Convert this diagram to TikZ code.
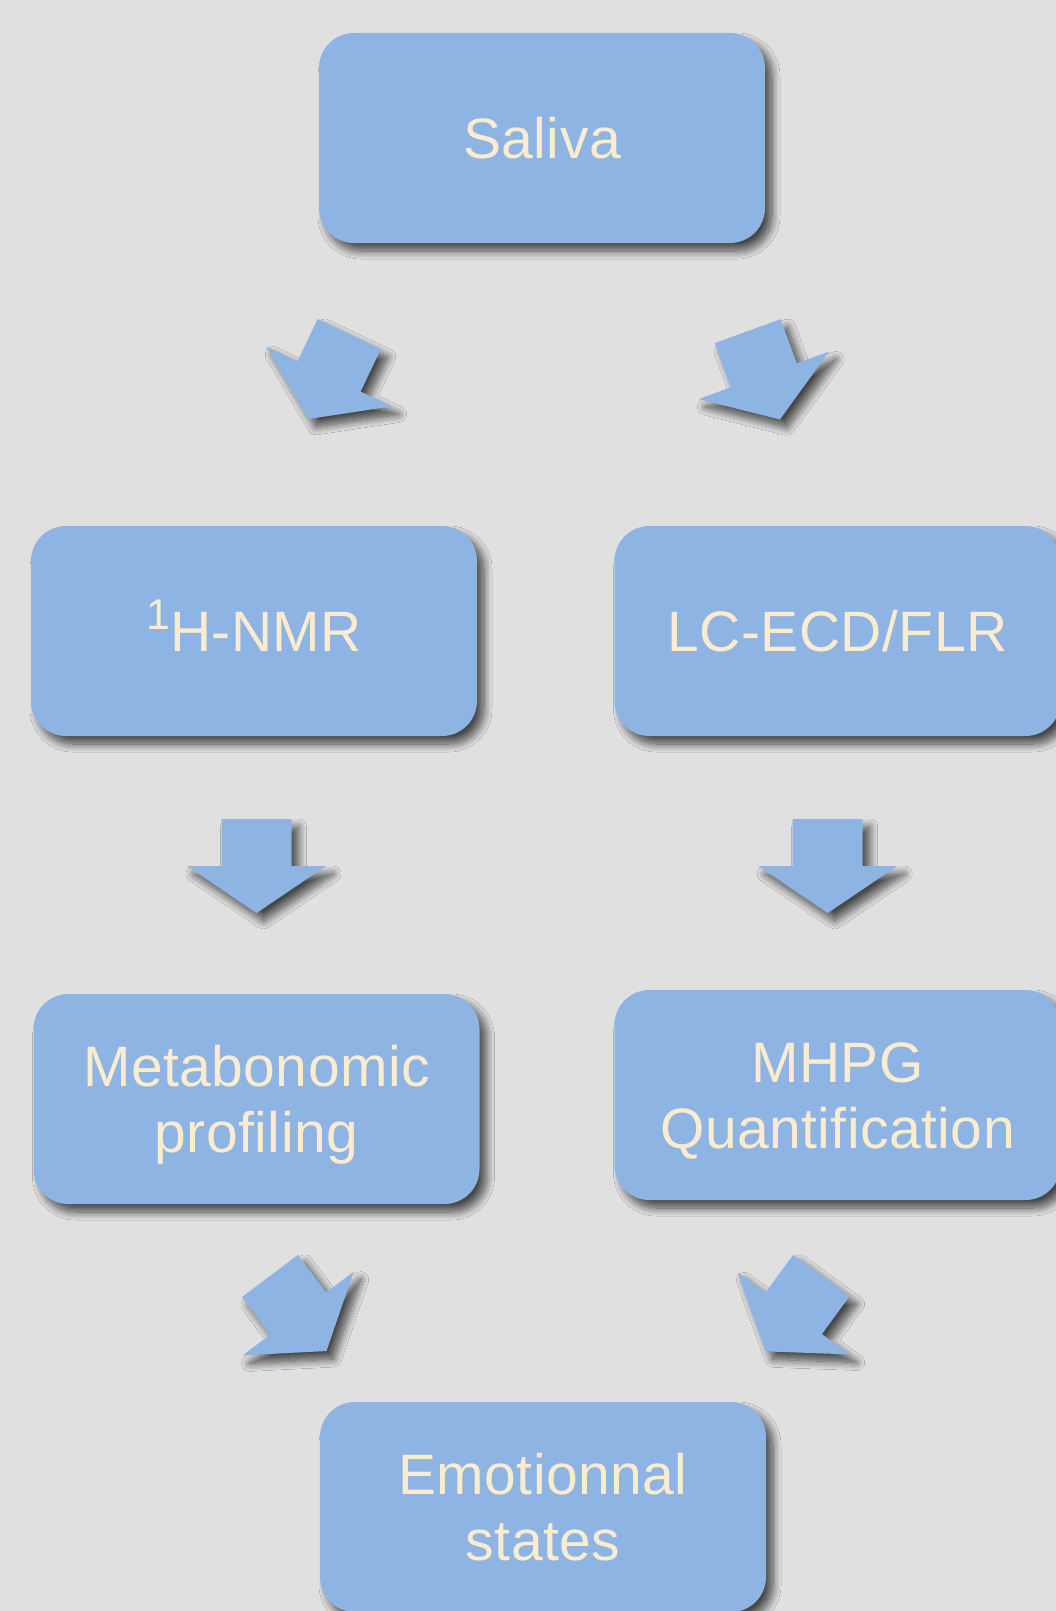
\documentclass[tikz,border=0pt]{standalone}
\usepackage{fontspec}
\setmainfont[LetterSpace=0.8]{Liberation Sans}
\usetikzlibrary{calc,shadows.blur}
\definecolor{bgc}{RGB}{224,224,224}
\definecolor{boxc}{RGB}{142,180,227}
\definecolor{txtc}{RGB}{251,236,208}
\tikzset{
  softshadow/.style={blur shadow={shadow xshift=7pt, shadow yshift=-8pt, shadow blur radius=8pt, shadow blur steps=12, shadow opacity=68}},
  box/.style={rounded corners=35pt, fill=boxc, minimum width=446pt, minimum height=210pt,
    inner sep=0pt, text=txtc, align=center, font=\fontsize{57}{66.5}\selectfont, softshadow},
  oneline/.style={text height=41pt, text depth=0pt},
  twoline/.style={text height=41pt, text depth=66.5pt},
  arrowshape/.style={fill=boxc, softshadow}
}
\newcommand\blockarrow[3]{%
  \coordinate (#1) at (#2);
  \fill[arrowshape] ($(#1)+(#3+180:47)+(#3+90:35)$) -- ($(#1)+(#3+90:35)$) -- ($(#1)+(#3+90:69.5)$)
    -- ($(#1)+(#3:47)$) -- ($(#1)+(#3-90:69.5)$) -- ($(#1)+(#3-90:35)$)
    -- ($(#1)+(#3+180:47)+(#3-90:35)$) -- cycle;
}
\begin{document}
\begin{tikzpicture}[x=1pt,y=-1pt]
\fill[bgc] (0,0) rectangle (1056,1611);
\useasboundingbox (0,0) rectangle (1056,1611);
\node[box,oneline] (saliva) at (542,138) {Saliva};
\node[box,oneline] (nmr) at (254,631) {\raisebox{21.7pt}{\fontsize{43}{43}\selectfont 1}H-NMR};
\node[box,oneline] (lc) at (837.5,631) {LC-ECD/FLR};
\node[box,twoline] (meta) at (256.5,1099) {\begin{tabular}[t]{@{}c@{}}Metabonomic\\profiling\end{tabular}};
\node[box,twoline] (mhpg) at (837.5,1095) {\begin{tabular}[t]{@{}c@{}}MHPG\\Quantification\end{tabular}};
\node[box,twoline] (emo) at (543,1507) {\begin{tabular}[t]{@{}c@{}}Emotionnal\\states\end{tabular}};
\blockarrow{a1}{329,376.5}{115.5}
\blockarrow{a2}{763.8,375.3}{70}
\blockarrow{a3}{256.5,866}{90}
\blockarrow{a4}{827.7,866}{90}
\blockarrow{a5}{298.2,1313.5}{53}
\blockarrow{a6}{793.6,1313.4}{126.2}
\end{tikzpicture}
\end{document}
